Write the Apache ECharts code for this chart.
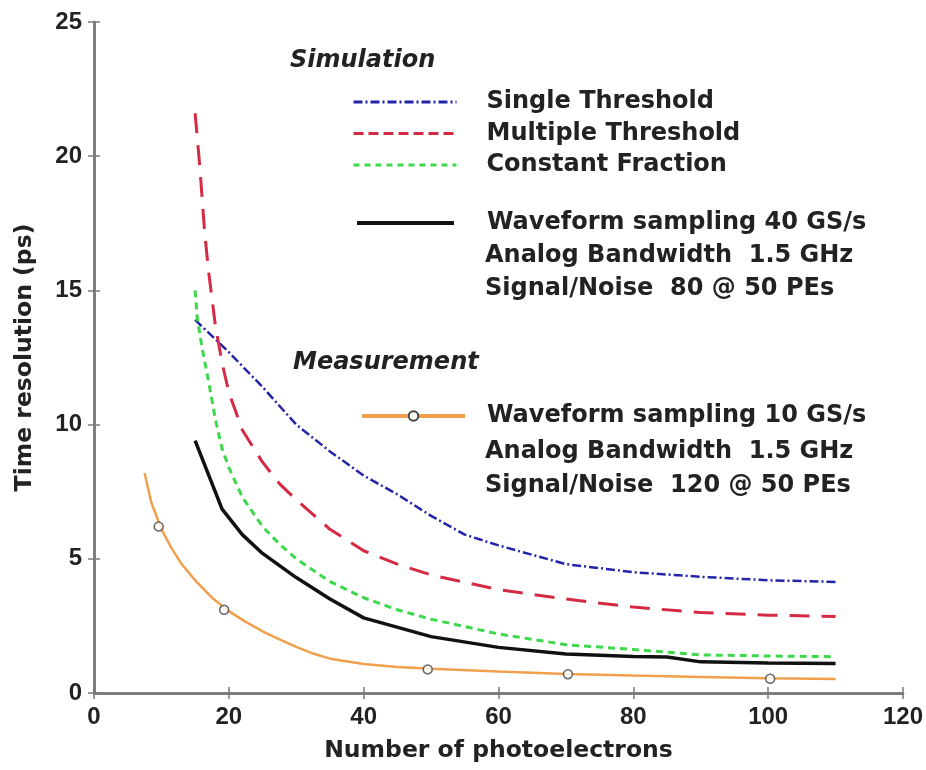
<!DOCTYPE html>
<html>
<head>
<meta charset="utf-8">
<script src="https://cdn.jsdelivr.net/npm/echarts@6/dist/echarts.min.js"></script>
<style>
  html, body { margin: 0; padding: 0; background: #fff; }
  #main { width: 926px; height: 770px; }
</style>
</head>
<body>
<div id="main"></div>
<script>
// axis ticks
var xTicks = [0, 20, 40, 60, 80, 100, 120];
var yTicks = [0, 5, 10, 15, 20, 25];

// Single Threshold (simulation)
var singleX = [15, 20, 25, 30, 35, 40, 45, 50, 55, 60, 70, 80, 90, 100, 110];
var singleY = [13.9, 12.7, 11.4, 10.0, 9.0, 8.1, 7.4, 6.6, 5.9, 5.5, 4.8, 4.5, 4.33, 4.2, 4.14];

// Multiple Threshold (simulation)
var multiX = [15, 15.7, 16.4, 17, 18, 19, 20, 22, 25, 27.5, 30, 35, 40, 45, 50, 60, 70, 80, 90, 100, 110];
var multiY = [21.6, 19.6, 17.2, 15.7, 13.7, 12.3, 11.2, 9.8, 8.6, 7.8, 7.2, 6.1, 5.3, 4.8, 4.4, 3.85, 3.5, 3.2, 3.0, 2.9, 2.85];

// Constant Fraction (simulation)
var cfdX = [15, 15.3, 16, 17, 18, 19, 20, 22, 25, 27.5, 30, 35, 40, 45, 50, 60, 70, 80, 90, 100, 110];
var cfdY = [15.0, 14.0, 12.9, 11.6, 10.2, 9.1, 8.4, 7.3, 6.2, 5.55, 5.0, 4.15, 3.55, 3.1, 2.75, 2.2, 1.8, 1.62, 1.42, 1.38, 1.35];

// Waveform sampling 40 GS/s (simulation)
var wf40X = [15, 19, 22, 25, 30, 35, 40, 50, 60, 70, 80, 85, 90, 100, 110];
var wf40Y = [9.4, 6.85, 5.9, 5.2, 4.3, 3.5, 2.8, 2.1, 1.7, 1.45, 1.36, 1.34, 1.16, 1.12, 1.1];

// Waveform sampling 10 GS/s (measurement): fitted curve and measured points
var wf10X = [7.5, 8.5, 10, 11.5, 13, 15, 17.5, 20, 22.5, 25, 27.5, 30, 32.5, 35, 40, 45, 50, 60, 70, 80, 90, 100, 110];
var wf10Y = [8.2, 7.1, 6.1, 5.4, 4.8, 4.2, 3.55, 3.05, 2.65, 2.3, 2.0, 1.72, 1.47, 1.28, 1.08, 0.97, 0.9, 0.8, 0.71, 0.65, 0.6, 0.55, 0.52];
var measX = [9.6, 19.3, 49.5, 70.3, 100.3];
var measY = [6.2, 3.1, 0.88, 0.7, 0.53];

function pairs(xs, ys) {
    return xs.map(function (x, i) { return [x, ys[i]]; });
}

var axisColor = '#7a7a7a';
var textColor = '#222';
var fontFam = '"DejaVu Sans", sans-serif';
var legendText = {
    color: textColor,
    fontFamily: fontFam,
    fontWeight: 'bold',
    fontSize: 24,
    lineHeight: 24
};

var myChart = echarts.init(document.getElementById('main'));

var option = {
    animation: false,
    backgroundColor: '#fff',
    grid: { left: 94, right: 21, top: 22, bottom: 77 },
    xAxis: [{
        type: 'value',
        min: xTicks[0],
        max: xTicks[xTicks.length - 1],
        interval: 20,
        name: 'Number of photoelectrons',
        nameLocation: 'middle',
        nameGap: 46,
        nameTextStyle: { color: textColor, fontFamily: fontFam, fontWeight: 'bold', fontSize: 23.5 },
        axisLine: { lineStyle: { color: axisColor, width: 2.5 } },
        axisTick: { inside: true, length: 6, lineStyle: { color: axisColor, width: 1.5 } },
        axisLabel: { margin: 12, color: textColor, fontFamily: '"Liberation Sans", Arial, sans-serif', fontWeight: 'bold', fontSize: 24 },
        splitLine: { show: false }
    }, {
        type: 'value',
        position: 'top',
        min: xTicks[0],
        max: xTicks[xTicks.length - 1],
        interval: 20,
        axisLine: { lineStyle: { color: axisColor, width: 2.5 } },
        axisTick: { inside: true, length: 6, lineStyle: { color: axisColor, width: 1.5 } },
        axisLabel: { show: false },
        splitLine: { show: false }
    }],
    yAxis: [{
        type: 'value',
        min: yTicks[0],
        max: yTicks[yTicks.length - 1],
        interval: 5,
        name: 'Time resolution (ps)',
        nameLocation: 'middle',
        nameGap: 57,
        nameTextStyle: { color: textColor, fontFamily: fontFam, fontWeight: 'bold', fontSize: 23.5 },
        axisLine: { lineStyle: { color: axisColor, width: 2.5 } },
        axisTick: { inside: true, length: 6, lineStyle: { color: axisColor, width: 1.5 } },
        axisLabel: { margin: 12, color: textColor, fontFamily: '"Liberation Sans", Arial, sans-serif', fontWeight: 'bold', fontSize: 24 },
        splitLine: { show: false }
    }, {
        type: 'value',
        position: 'right',
        min: yTicks[0],
        max: yTicks[yTicks.length - 1],
        interval: 5,
        axisLine: { lineStyle: { color: axisColor, width: 2.5 } },
        axisTick: { inside: true, length: 6, lineStyle: { color: axisColor, width: 1.5 } },
        axisLabel: { show: false },
        splitLine: { show: false }
    }],
    legend: [{
        left: 352, top: 90, orient: 'vertical', padding: 0,
        itemWidth: 103, itemHeight: 14, itemGap: 7.5,
        selectedMode: false,
        textStyle: Object.assign({ padding: [0, 0, 0, 25] }, legendText),
        itemStyle: { opacity: 0 },
        lineStyle: { width: 3 },
        data: [
            { name: 'Single Threshold', lineStyle: { type: [9, 3, 2, 3] } },
            { name: 'Multiple Threshold', lineStyle: { type: [10, 5] } },
            { name: 'Constant Fraction', lineStyle: { type: [6, 5] } }
        ]
    }, {
        left: 355, top: 211, orient: 'vertical', padding: 0,
        itemWidth: 97, itemHeight: 14,
        selectedMode: false,
        textStyle: Object.assign({ padding: [0, 0, 0, 28] }, legendText),
        itemStyle: { opacity: 0 },
        lineStyle: { width: 4 },
        data: ['Waveform sampling 40 GS/s']
    }, {
        left: 360, top: 404, orient: 'vertical', padding: 0,
        itemWidth: 103, itemHeight: 12,
        selectedMode: false,
        textStyle: Object.assign({ padding: [0, 0, 0, 17] }, legendText),
        lineStyle: { width: 4 },
        data: ['Waveform sampling 10 GS/s']
    }],
    graphic: [
        { type: 'text', x: 290, y: 61, style: { text: 'Simulation', font: 'italic bold 24px "DejaVu Sans"', fill: textColor, verticalAlign: 'middle' } },
        { type: 'text', x: 485, y: 256, style: { text: 'Analog Bandwidth  1.5 GHz', font: 'bold 24px "DejaVu Sans"', fill: textColor, verticalAlign: 'middle' } },
        { type: 'text', x: 485, y: 289, style: { text: 'Signal/Noise  80 @ 50 PEs', font: 'bold 24px "DejaVu Sans"', fill: textColor, verticalAlign: 'middle' } },
        { type: 'text', x: 293, y: 363, style: { text: 'Measurement', font: 'italic bold 24px "DejaVu Sans"', fill: textColor, verticalAlign: 'middle' } },
        { type: 'text', x: 485, y: 452, style: { text: 'Analog Bandwidth  1.5 GHz', font: 'bold 24px "DejaVu Sans"', fill: textColor, verticalAlign: 'middle' } },
        { type: 'text', x: 485, y: 486, style: { text: 'Signal/Noise  120 @ 50 PEs', font: 'bold 24px "DejaVu Sans"', fill: textColor, verticalAlign: 'middle' } }
    ],
    series: [
        {
            name: 'Single Threshold',
            type: 'line',
            symbol: 'none',
            data: pairs(singleX, singleY),
            lineStyle: { color: '#2424a8', width: 2.5, type: [9, 3, 2, 3] },
            itemStyle: { color: '#2424a8' }
        },
        {
            name: 'Multiple Threshold',
            type: 'line',
            symbol: 'none',
            data: pairs(multiX, multiY),
            lineStyle: { color: '#d42a44', width: 3, type: [20, 12] },
            itemStyle: { color: '#d42a44' }
        },
        {
            name: 'Constant Fraction',
            type: 'line',
            symbol: 'none',
            data: pairs(cfdX, cfdY),
            lineStyle: { color: '#3ed84c', width: 3, type: [7, 5] },
            itemStyle: { color: '#3ed84c' }
        },
        {
            name: 'Waveform sampling 40 GS/s',
            type: 'line',
            symbol: 'none',
            data: pairs(wf40X, wf40Y),
            lineStyle: { color: '#111', width: 3.5 },
            itemStyle: { color: '#111' }
        },
        {
            name: 'Waveform sampling 10 GS/s',
            type: 'line',
            symbol: 'circle',
            symbolSize: 9,
            showSymbol: false,
            data: pairs(wf10X, wf10Y),
            lineStyle: { color: '#f0a04c', width: 2.5 },
            itemStyle: { color: '#fff', borderColor: '#444', borderWidth: 1.5 },
            z: 3
        },
        {
            name: 'measured',
            type: 'scatter',
            symbol: 'circle',
            symbolSize: 9,
            data: pairs(measX, measY),
            itemStyle: { color: '#fff', borderColor: '#444', borderWidth: 1.5 },
            z: 4
        }
    ]
};

myChart.setOption(option);
</script>
</body>
</html>
